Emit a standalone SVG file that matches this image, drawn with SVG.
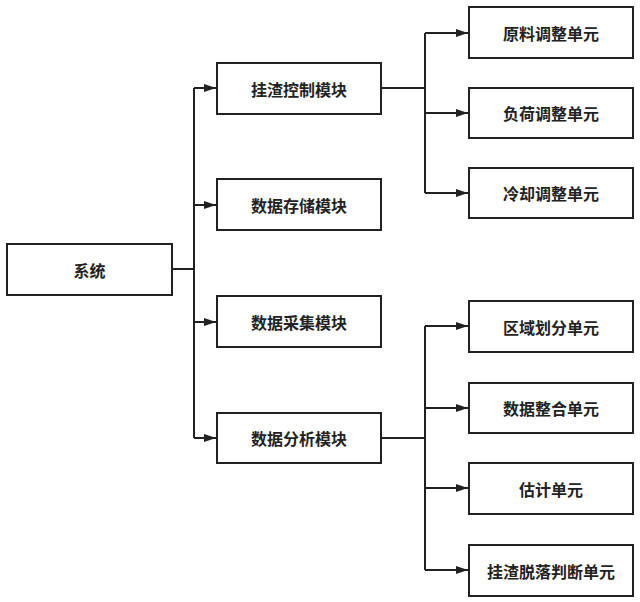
<svg xmlns="http://www.w3.org/2000/svg" width="640" height="602" viewBox="0 0 640 602">
<style>
.b{fill:#fff;stroke:#222;stroke-width:2}
.t{font-family:"Noto Sans CJK SC","Noto Sans",sans-serif;font-size:16px;font-weight:bold;fill:#222;text-anchor:middle;dominant-baseline:central}
.c{fill:none;stroke:#222;stroke-width:2}
</style>
<defs>
<marker id="a" viewBox="0 0 12 8" refX="12" refY="4" markerWidth="12" markerHeight="8" markerUnits="userSpaceOnUse" orient="auto">
<path d="M0,0L12,4L0,8z" fill="#222"/>
</marker>
</defs>
<rect width="640" height="602" fill="#fff"/>
<g id="connectors">
<path class="c" d="M172,269H194"/>
<path class="c" d="M194,88V438"/>
<path class="c" d="M194,88H216" marker-end="url(#a)"/>
<path class="c" d="M194,205H216" marker-end="url(#a)"/>
<path class="c" d="M194,322H216" marker-end="url(#a)"/>
<path class="c" d="M194,438H216" marker-end="url(#a)"/>
<path class="c" d="M381,88H425"/>
<path class="c" d="M425,33V193"/>
<path class="c" d="M425,33H468" marker-end="url(#a)"/>
<path class="c" d="M425,113H468" marker-end="url(#a)"/>
<path class="c" d="M425,193H468" marker-end="url(#a)"/>
<path class="c" d="M381,438H425"/>
<path class="c" d="M425,326V570"/>
<path class="c" d="M425,326H468" marker-end="url(#a)"/>
<path class="c" d="M425,408H468" marker-end="url(#a)"/>
<path class="c" d="M425,488H468" marker-end="url(#a)"/>
<path class="c" d="M425,570H468" marker-end="url(#a)"/>
</g>
<g id="system"><rect class="b" x="7" y="244" width="165" height="51"/><text class="t" x="89.5" y="269.5">系统</text></g>
<g id="m1"><rect class="b" x="217" y="63" width="164" height="51"/><text class="t" x="299" y="88.5">挂渣控制模块</text></g>
<g id="m2"><rect class="b" x="217" y="179" width="164" height="51"/><text class="t" x="299" y="204.5">数据存储模块</text></g>
<g id="m3"><rect class="b" x="217" y="296" width="164" height="51"/><text class="t" x="299" y="321.5">数据采集模块</text></g>
<g id="m4"><rect class="b" x="217" y="413" width="164" height="50"/><text class="t" x="299" y="438">数据分析模块</text></g>
<g id="u1"><rect class="b" x="469" y="7" width="164" height="51"/><text class="t" x="551" y="32.5">原料调整单元</text></g>
<g id="u2"><rect class="b" x="469" y="88" width="164" height="50"/><text class="t" x="551" y="113">负荷调整单元</text></g>
<g id="u3"><rect class="b" x="469" y="168" width="164" height="50"/><text class="t" x="551" y="193">冷却调整单元</text></g>
<g id="u4"><rect class="b" x="469" y="301" width="164" height="51"/><text class="t" x="551" y="326.5">区域划分单元</text></g>
<g id="u5"><rect class="b" x="469" y="383" width="164" height="50"/><text class="t" x="551" y="408">数据整合单元</text></g>
<g id="u6"><rect class="b" x="469" y="463" width="164" height="51"/><text class="t" x="551" y="488.5">估计单元</text></g>
<g id="u7"><rect class="b" x="469" y="545" width="164" height="51"/><text class="t" x="551" y="570.5">挂渣脱落判断单元</text></g>
</svg>
